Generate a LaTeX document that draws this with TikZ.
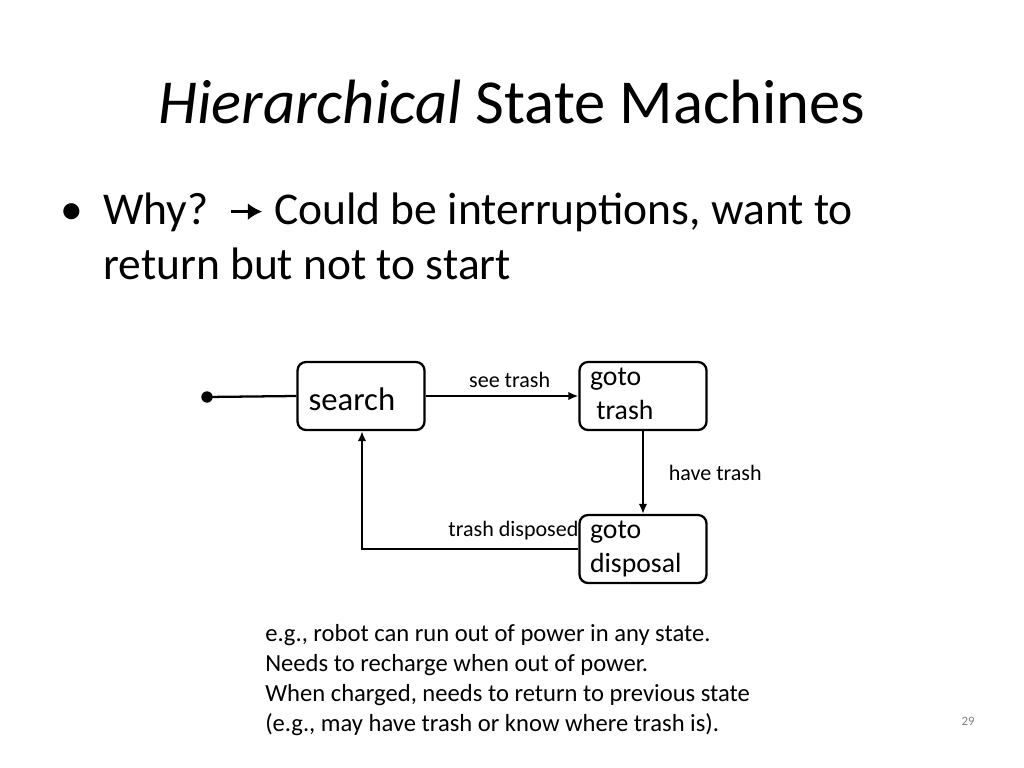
\documentclass[tikz,border=0pt]{standalone}
\usepackage{fontspec}
\setmainfont{Carlito}
\usetikzlibrary{arrows.meta,positioning}
\tikzset{
  state/.style={draw,line width=1.6pt,rounded corners=6pt,minimum width=127\px,minimum height=68\px},
  lbl/.style={font=\fontsize{15.5}{18}\selectfont},
  trans/.style={line width=1.6pt,-{Latex[length=7pt,width=6pt]}}
}
\newlength{\px}\setlength{\px}{0.703pt}
\begin{document}
\begin{tikzpicture}[x=0.703pt,y=-0.703pt]
  \useasboundingbox (0,0) rectangle (1024,768);

  % TITLE
  \node (title) at (512,102) {\fontsize{44}{50}\selectfont\textit{Hierarchical} State Machines};
  \node[anchor=north west,align=left,font=\fontsize{32}{38.5}\selectfont] (bullet) at (55,188)
    {\textbullet\hspace{0.45em}Why?\ \ \tikz[baseline=-0.6ex]\draw[line width=2.5pt,-{Latex[length=10pt,width=12pt]}] (0,0) -- (22pt,0); Could be interruptions, want to\\
     \hspace{0.95em}return but not to start};

  % STATES
  \node[state] (search) at (361,396) {};
  \node[anchor=west,font=\fontsize{23}{26}\selectfont] at (search.west) [xshift=5pt,yshift=-2pt] {search};
  \node[state] (gototrash) at (643,396) {};
  \node[anchor=north west,align=left,font=\fontsize{19.5}{24}\selectfont,inner sep=0pt]
    at ([xshift=8pt,yshift=-5pt]gototrash.north west) {goto\\ \ trash};
  \node[state] (gotodisp) at (643,549) {};
  \node[anchor=north west,align=left,font=\fontsize{19.5}{24}\selectfont,inner sep=0pt]
    at ([xshift=8pt,yshift=-5pt]gotodisp.north west) {goto\\disposal};

  \coordinate (init) at (207,397);
  \fill (init) circle (4pt);
  \coordinate (corner) at (362,549);

  % TRANSITIONS
  \draw[line width=1.6pt] (init) -- (search.west);
  \draw[trans] (search) -- node[lbl,above,pos=0.55,yshift=2pt] {see trash} (gototrash);
  \draw[trans] (gototrash) -- node[lbl,right,xshift=14pt] {have trash} (gotodisp);
  \draw[trans] (gotodisp.west) -- node[lbl,above,pos=0.3,yshift=2pt] {trash disposed} (corner) -- (search.south -| corner);

  % NOTE
  \node[anchor=north west,align=left,font=\fontsize{17.3}{21.2}\selectfont,inner sep=0pt] (note) at (265,624)
    {e.g., robot can run out of power in any state.\\
     Needs to recharge when out of power.\\
     When charged, needs to return to previous state\\
     (e.g., may have trash or know where trash is).};
  \node[font=\fontsize{9}{10}\selectfont,text=gray] (page) at (968,721) {29};
\end{tikzpicture}
\end{document}
